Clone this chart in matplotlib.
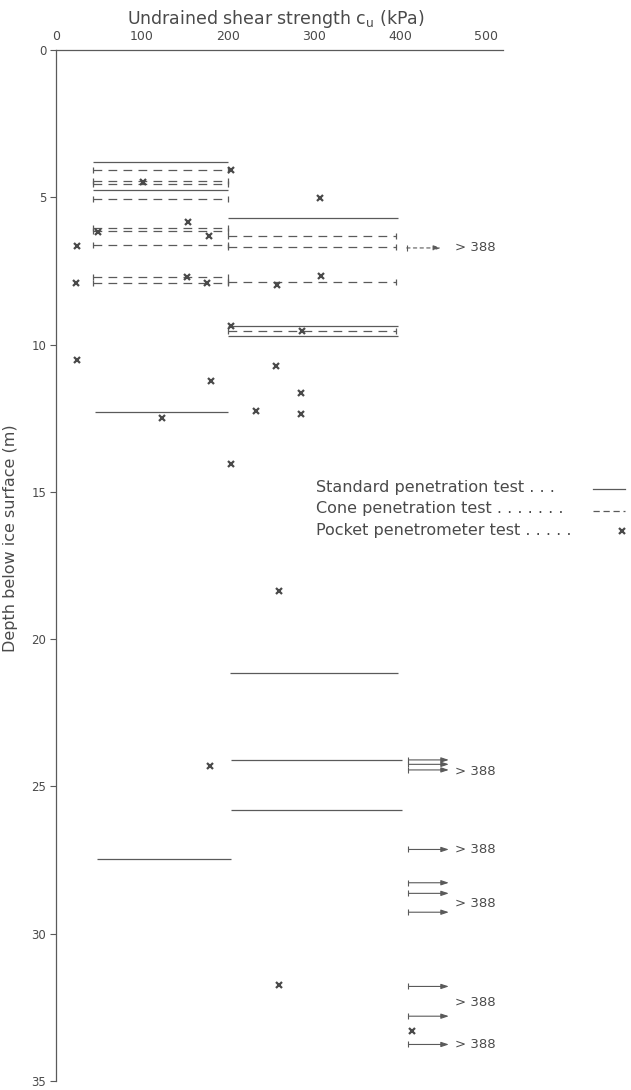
import matplotlib
matplotlib.use("Agg")
import matplotlib.pyplot as plt

# Standard penetration test: depth (m), from / to (kPa)
spt_depth = [3.80, 4.76, 12.29, 27.45, 5.72, 9.38, 9.70, 21.14, 24.09, 25.81]
spt_from = [43, 43, 45, 48, 200, 200, 200, 202, 204, 203]
spt_to = [200, 200, 200, 203, 398, 398, 398, 398, 402, 402]

# Cone penetration test
cpt_depth = [4.08, 4.45, 4.54, 5.05, 6.03, 6.14, 6.61, 7.70, 7.92,
             6.33, 6.69, 7.86, 9.55]
cpt_from = [43, 43, 43, 43, 43, 43, 43, 43, 43, 200, 200, 200, 200]
cpt_to = [200, 200, 200, 200, 200, 200, 200, 200, 200, 396, 396, 396, 396]

# Pocket penetrometer test
ppt_cu = [204, 101, 307, 154, 49, 178, 25, 23, 152, 176, 257, 308, 203, 286,
          24, 256, 180, 285, 123, 233, 285, 204, 259, 179, 259, 414]
ppt_depth = [4.06, 4.49, 5.02, 5.84, 6.18, 6.31, 6.67, 7.92, 7.72, 7.92, 7.97,
             7.67, 9.36, 9.53, 10.54, 10.74, 11.22, 11.64, 12.49, 12.27, 12.34,
             14.07, 18.35, 24.29, 31.73, 33.31]

# readings above the limit (> 388 kPa)
over_cpt_depth = [6.72]
over_spt_depth = [24.10, 24.25, 24.44, 27.14, 28.27, 28.63, 29.27,
                  31.79, 32.80, 33.76]
over_label_depth = [6.72, 24.48, 27.14, 28.98, 32.33, 33.76]
over_label = "> 388"

x_ticks = [0, 100, 200, 300, 400, 500]
y_ticks = [0, 5, 10, 15, 20, 25, 30, 35]

ink = "#4a4a4a"
line_c = "#5a5a5a"

fig = plt.figure(figsize=(6.31, 10.9), dpi=100)
W, H = 631, 1090
ax = fig.add_axes([56 / W, 9 / H, 447 / W, 1031 / H])
ax.set_xlim(0, 520)
ax.set_ylim(35, 0)

for d, a, b in zip(spt_depth, spt_from, spt_to):
    ax.plot([a, b], [d, d], color=line_c, lw=0.9, solid_capstyle="butt")

for d, a, b in zip(cpt_depth, cpt_from, cpt_to):
    ax.plot([a, b], [d, d], color=line_c, lw=0.9, dashes=(7, 5),
            marker="|", markevery=[0, 1], ms=5, mew=0.9)

ax.plot(ppt_cu, ppt_depth, ls="none", marker="x", color=ink, ms=5, mew=1.6)

# arrows for values beyond the scale
for d in over_spt_depth:
    ax.plot([410], [d], marker="|", color=line_c, ms=4, mew=0.8)
    ax.annotate("", xy=(457, d), xytext=(410, d),
                arrowprops=dict(arrowstyle="-|>,head_length=0.45,head_width=0.15",
                                color=line_c, lw=0.8, shrinkA=0, shrinkB=0))
for d in over_cpt_depth:
    ax.plot([408], [d], marker="|", color=line_c, ms=4, mew=0.8)
    ax.annotate("", xy=(448, d), xytext=(408, d),
                arrowprops=dict(arrowstyle="-|>,head_length=0.45,head_width=0.15",
                                color=line_c, lw=0.8, ls=(0, (3, 3)),
                                shrinkA=0, shrinkB=0))
for d in over_label_depth:
    ax.text(464, d, over_label, fontsize=9.5, color=ink, va="center", ha="left")

# axes
ax.spines["right"].set_visible(False)
ax.spines["bottom"].set_visible(False)
ax.spines["top"].set_color(line_c)
ax.spines["left"].set_color(line_c)
ax.spines["top"].set_linewidth(0.9)
ax.spines["left"].set_linewidth(0.9)
ax.xaxis.tick_top()
ax.set_xticks(x_ticks)
ax.set_xticklabels([str(v) for v in x_ticks])
ax.tick_params(axis="x", length=0, pad=5, labelsize=9, labelcolor=ink)
ax.set_yticks(y_ticks)
ax.set_yticklabels([str(v) for v in y_ticks])
ax.tick_params(axis="y", length=4, width=0.8, color=line_c, pad=3,
               labelsize=8.5, labelcolor=ink)

fig.text(276 / W, 1 - 19 / H, "Undrained shear strength c$_\\mathregular{u}$ (kPa)",
         ha="center", va="center", fontsize=12.5, color=ink)
fig.text(11 / W, 1 - 538 / H, "Depth below ice surface (m)", rotation=90,
         ha="center", va="center", fontsize=11.5, color=ink)

# legend drawn by hand
leg = [("Standard penetration test . . .", "solid", 487),
       ("Cone penetration test . . . . . . .", "dashed", 509),
       ("Pocket penetrometer test . . . . .", "x", 531)]
for txt, kind, yp in leg:
    yf = 1 - yp / H
    fig.text(316 / W, yf, txt, ha="left", va="center", fontsize=11.5, color=ink)
    if kind == "solid":
        fig.add_artist(plt.Line2D([593 / W, 625 / W], [yf - 0.002, yf - 0.002],
                                  color=line_c, lw=0.9))
    elif kind == "dashed":
        fig.add_artist(plt.Line2D([593 / W, 625 / W], [yf - 0.002, yf - 0.002],
                                  color=line_c, lw=0.9, dashes=(5, 3)))
    else:
        fig.add_artist(plt.Line2D([622 / W], [yf], ls="none", marker="x",
                                  color=ink, ms=5, mew=1.6))

fig.savefig("out.png", dpi=100)
